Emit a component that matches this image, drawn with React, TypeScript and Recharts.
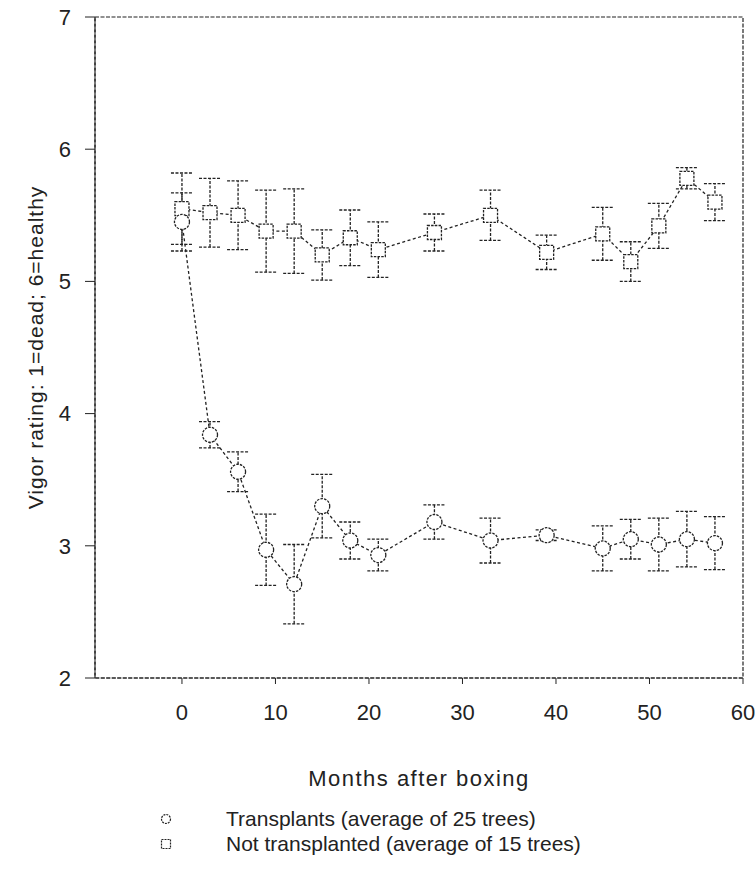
import { ComposedChart, Line, XAxis, YAxis, ErrorBar, ReferenceArea } from 'recharts'

// months after boxing (readings every 3 months, gap 21 -> 27 ...)
const months = [0, 3, 6, 9, 12, 15, 18, 21, 27, 33, 39, 45, 48, 51, 54, 57]

// transplants (circles), average of 25 trees
const transplants = [5.45, 3.84, 3.56, 2.97, 2.71, 3.3, 3.04, 2.93, 3.18, 3.04, 3.08, 2.98, 3.05, 3.01, 3.05, 3.02]
const transplantsErr = [0.22, 0.1, 0.15, 0.27, 0.3, 0.24, 0.14, 0.12, 0.13, 0.17, 0.04, 0.17, 0.15, 0.2, 0.21, 0.2]

// not transplanted (squares), average of 15 trees
const notTransplanted = [5.55, 5.52, 5.5, 5.38, 5.38, 5.2, 5.33, 5.24, 5.37, 5.5, 5.22, 5.36, 5.15, 5.42, 5.78, 5.6]
const notTransplantedErr = [0.27, 0.26, 0.26, 0.31, 0.32, 0.19, 0.21, 0.21, 0.14, 0.19, 0.13, 0.2, 0.15, 0.17, 0.08, 0.14]

const xTicks = [0, 10, 20, 30, 40, 50, 60]
const yTicks = [2, 3, 4, 5, 6, 7]

const INK = '#222'
const FONT = '"Liberation Sans", Arial, sans-serif'

const rows = months.map((m, i) => ({
  month: m,
  tr: transplants[i],
  trErr: transplantsErr[i],
  nt: notTransplanted[i],
  ntErr: notTransplantedErr[i],
}))

const CircleDot = (p: any) => (
  <circle key={`c-${p.index}`} cx={p.cx} cy={p.cy} r={7.5} fill="#fff" stroke={INK} strokeWidth={1.3} strokeDasharray="2.5 1.2" />
)

const SquareDot = (p: any) => (
  <rect key={`s-${p.index}`} x={p.cx - 7} y={p.cy - 7} width={14} height={14} fill="#fff" stroke={INK} strokeWidth={1.3} strokeDasharray="2.5 1.2" />
)

const tickStyle = { fontSize: 22, fill: INK, fontFamily: FONT }

export default function App() {
  return (
    <div style={{ position: 'absolute', left: 0, top: 0, width: 756, height: 871, background: '#fff', fontFamily: FONT }}>
      <ComposedChart width={756} height={871} data={rows} margin={{ top: 17, right: 13, left: 20, bottom: 85 }}>
        <ReferenceArea x1={-9.3} x2={60} y1={2} y2={7} fill="none" stroke={INK} strokeWidth={1.2} strokeDasharray="4 1.5" />
        <XAxis
          dataKey="month"
          type="number"
          domain={[-9.3, 60]}
          ticks={xTicks}
          allowDataOverflow
          height={108}
          tick={tickStyle}
          tickSize={6}
          tickMargin={20}
          stroke={INK}
          axisLine={{ stroke: INK, strokeDasharray: '4 1.5', strokeWidth: 1.2 }}
          label={{
            value: 'Months after boxing',
            position: 'insideBottom',
            offset: 0,
            style: { ...tickStyle, textAnchor: 'middle', letterSpacing: 1.5 },
          }}
        />
        <YAxis
          type="number"
          domain={[2, 7]}
          ticks={yTicks}
          allowDataOverflow
          width={75}
          tick={tickStyle}
          tickSize={10}
          tickMargin={14}
          stroke={INK}
          axisLine={{ stroke: INK, strokeDasharray: '4 1.5', strokeWidth: 1.2 }}
          label={{
            value: 'Vigor rating: 1=dead; 6=healthy',
            angle: -90,
            position: 'insideLeft',
            offset: 8,
            dx: 8,
            style: { ...tickStyle, fontSize: 21, textAnchor: 'middle', letterSpacing: 1 },
          }}
        />
        <Line
          dataKey="nt"
          stroke={INK}
          strokeWidth={1.3}
          strokeDasharray="3 2.5"
          dot={SquareDot}
          activeDot={false}
          isAnimationActive={false}
        >
          <ErrorBar dataKey="ntErr" width={11} stroke={INK} strokeWidth={1.3} strokeDasharray="3 1.5" isAnimationActive={false} />
        </Line>
        <Line
          dataKey="tr"
          stroke={INK}
          strokeWidth={1.3}
          strokeDasharray="3 2.5"
          dot={CircleDot}
          activeDot={false}
          isAnimationActive={false}
        >
          <ErrorBar dataKey="trErr" width={11} stroke={INK} strokeWidth={1.3} strokeDasharray="3 1.5" isAnimationActive={false} />
        </Line>
      </ComposedChart>
      <div style={{ position: 'absolute', left: 160, top: 806, fontSize: 21, lineHeight: '25px', color: INK }}>
        <div style={{ display: 'flex', alignItems: 'center' }}>
          <svg width={14} height={14} style={{ marginRight: 52 }}>
            <circle cx={6} cy={7} r={4.5} fill="none" stroke={INK} strokeWidth={1.2} strokeDasharray="2 1" />
          </svg>
          <span>Transplants (average of 25 trees)</span>
        </div>
        <div style={{ display: 'flex', alignItems: 'center' }}>
          <svg width={14} height={14} style={{ marginRight: 52 }}>
            <rect x={1.5} y={2.5} width={9} height={9} fill="none" stroke={INK} strokeWidth={1.2} strokeDasharray="2 1" />
          </svg>
          <span>Not transplanted (average of 15 trees)</span>
        </div>
      </div>
    </div>
  )
}
